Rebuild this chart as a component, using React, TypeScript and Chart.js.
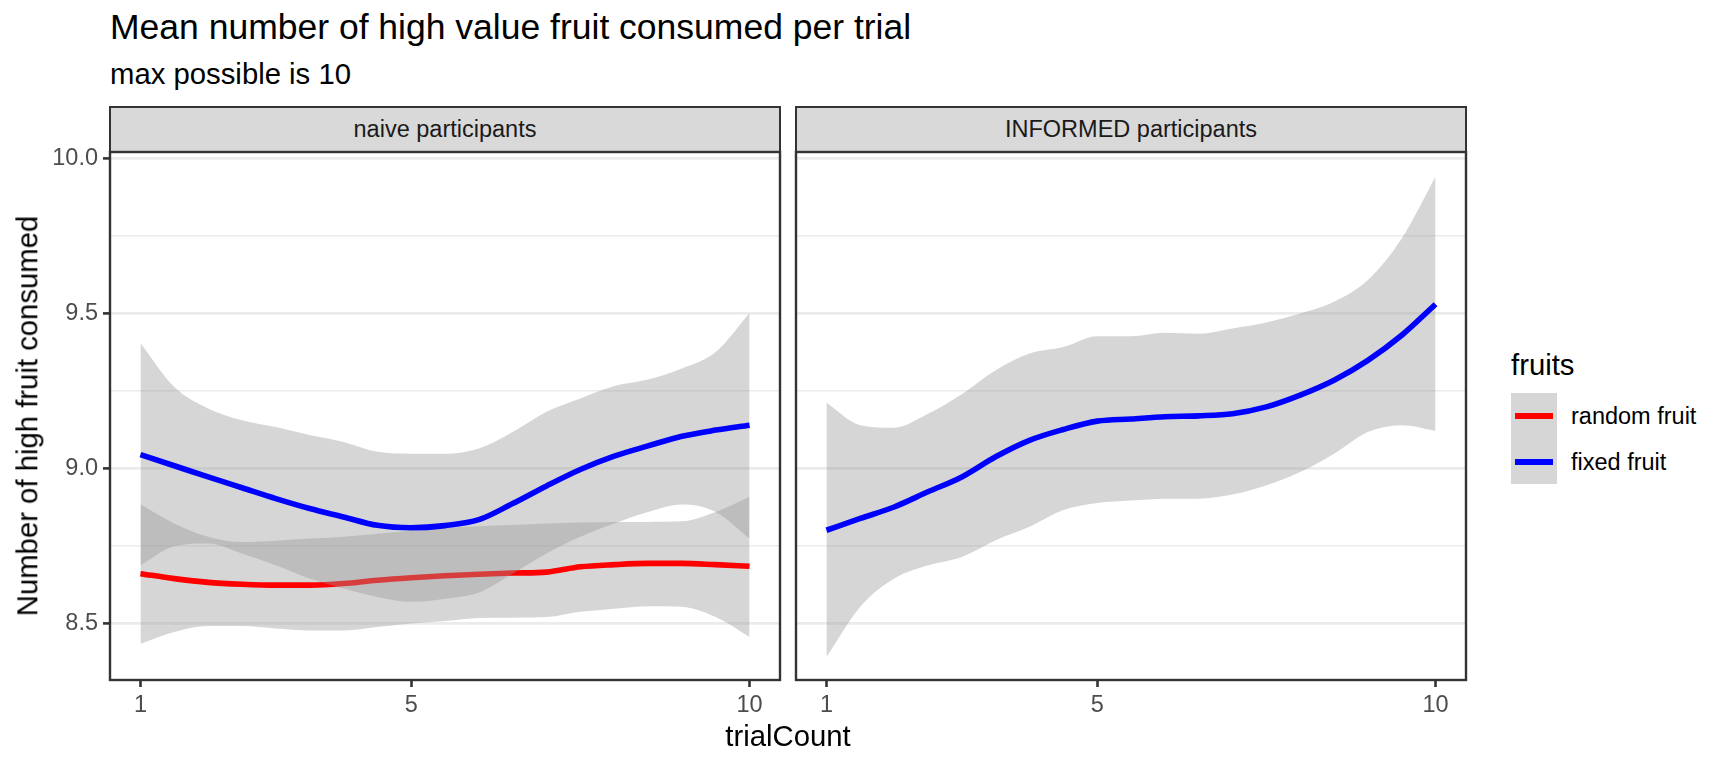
import React, { useEffect, useRef } from "react";
import { Chart, registerables } from "chart.js";

Chart.register(...registerables);

// ---------- data ----------
const trialCount = [1, 1.5, 2, 2.5, 3, 3.5, 4, 4.5, 5, 5.5, 6, 6.5, 7, 7.5, 8, 8.5, 9, 9.5, 10];

const naiveRandomFit = [8.661, 8.645, 8.633, 8.627, 8.624, 8.624, 8.629, 8.64, 8.648, 8.654, 8.659, 8.663, 8.666, 8.683, 8.69, 8.694, 8.694, 8.69, 8.685];
const naiveRandomLow = [8.435, 8.473, 8.492, 8.492, 8.484, 8.478, 8.478, 8.489, 8.5, 8.508, 8.518, 8.519, 8.521, 8.538, 8.548, 8.556, 8.554, 8.521, 8.457];
const naiveRandomHigh = [8.885, 8.823, 8.78, 8.763, 8.767, 8.774, 8.78, 8.79, 8.799, 8.808, 8.814, 8.818, 8.823, 8.826, 8.828, 8.828, 8.83, 8.86, 8.909];

const naiveFixedFit = [9.045, 9.009, 8.973, 8.938, 8.903, 8.871, 8.844, 8.817, 8.809, 8.816, 8.835, 8.887, 8.944, 8.997, 9.04, 9.073, 9.104, 9.124, 9.14];
const naiveFixedLow = [8.688, 8.749, 8.758, 8.726, 8.688, 8.645, 8.613, 8.586, 8.57, 8.58, 8.6, 8.661, 8.726, 8.78, 8.823, 8.86, 8.884, 8.86, 8.774];
const naiveFixedHigh = [9.405, 9.263, 9.194, 9.156, 9.134, 9.108, 9.086, 9.054, 9.048, 9.048, 9.065, 9.118, 9.183, 9.226, 9.266, 9.287, 9.323, 9.376, 9.502];

const informedFixedFit = [8.801, 8.839, 8.876, 8.925, 8.973, 9.038, 9.091, 9.126, 9.153, 9.16, 9.167, 9.17, 9.177, 9.199, 9.237, 9.285, 9.349, 9.43, 9.53];
const informedFixedLow = [8.392, 8.554, 8.645, 8.688, 8.715, 8.769, 8.812, 8.866, 8.889, 8.897, 8.903, 8.903, 8.916, 8.946, 8.989, 9.048, 9.118, 9.14, 9.122];
const informedFixedHigh = [9.212, 9.14, 9.132, 9.177, 9.24, 9.317, 9.371, 9.392, 9.427, 9.427, 9.438, 9.435, 9.452, 9.471, 9.5, 9.538, 9.608, 9.742, 9.941];

const xBreaks = [1, 5, 10];
const yBreaks = [8.5, 9.0, 9.5, 10.0];
const yMinorBreaks = [8.75, 9.25, 9.75];

const facetLabels = ["naive participants", "INFORMED participants"];
const seriesLabels = ["random fruit", "fixed fruit"];
const seriesColors = ["#FF0000", "#0000FF"];

const titleText = "Mean number of high value fruit consumed per trial";
const subtitleText = "max possible is 10";
const xTitle = "trialCount";
const yTitle = "Number of high fruit consumed";
const legendTitle = "fruits";

// ---------- styling ----------
const FONT = '"Liberation Sans", Arial, Helvetica, sans-serif';
const RIBBON = "rgba(153,153,153,0.4)";
const X_MIN = 0.55;
const X_MAX = 10.45;
const Y_MIN = 8.318;
const Y_MAX = 10.021;

type Series = { fit: number[]; lo: number[]; hi: number[]; color: string };

const pts = (arr: number[]) => trialCount.map((x, i) => ({ x, y: arr[i] }));

function buildDatasets(series: Series[]) {
  // first series in the list is drawn first (bottom); chart.js draws the last index first
  const ds: any[] = [];
  [...series].reverse().forEach((s) => {
    ds.push({
      data: pts(s.fit),
      borderColor: s.color,
      borderWidth: 5.6,
      pointRadius: 0,
      fill: false,
      cubicInterpolationMode: "monotone",
    });
    ds.push({
      data: pts(s.hi),
      borderWidth: 0,
      borderColor: "rgba(0,0,0,0)",
      backgroundColor: RIBBON,
      pointRadius: 0,
      fill: "+1",
      cubicInterpolationMode: "monotone",
    });
    ds.push({
      data: pts(s.lo),
      borderWidth: 0,
      borderColor: "rgba(0,0,0,0)",
      pointRadius: 0,
      fill: false,
      cubicInterpolationMode: "monotone",
    });
  });
  return ds;
}

const panelBorder = {
  id: "panelBorder",
  afterDraw(chart: any) {
    const { ctx, chartArea: a } = chart;
    ctx.save();
    ctx.strokeStyle = "#333333";
    ctx.lineWidth = 2.4;
    ctx.strokeRect(a.left, a.top, a.right - a.left, a.bottom - a.top);
    ctx.restore();
  },
};

const isMajor = (v: number) => yBreaks.some((b) => Math.abs(b - v) < 1e-6);

function makeConfig(series: Series[], showY: boolean): any {
  return {
    type: "line",
    data: { datasets: buildDatasets(series) },
    plugins: [panelBorder],
    options: {
      responsive: false,
      animation: false,
      events: [],
      layout: { padding: { top: 12, right: 10, left: 0, bottom: 0 } },
      plugins: {
        legend: { display: false },
        tooltip: { enabled: false },
        title: { display: false },
        filler: { propagate: false },
      },
      scales: {
        x: {
          type: "linear",
          min: X_MIN,
          max: X_MAX,
          afterBuildTicks: (s: any) => {
            s.ticks = xBreaks.map((v) => ({ value: v }));
          },
          afterFit: (s: any) => {
            s.height = 88;
            s.paddingLeft = 0;
            s.paddingRight = 0;
            s.paddingTop = 0;
            s.paddingBottom = 0;
          },
          border: { display: false },
          grid: {
            drawOnChartArea: false,
            drawTicks: true,
            tickLength: 7,
            tickColor: "#333333",
            tickWidth: 2.6,
          },
          ticks: {
            color: "#4D4D4D",
            font: { family: FONT, size: 23.5 },
            padding: 4,
            autoSkip: false,
            maxRotation: 0,
            callback: (v: any) => String(v),
          },
        },
        y: {
          type: "linear",
          min: Y_MIN,
          max: Y_MAX,
          afterBuildTicks: (s: any) => {
            s.ticks = [...yBreaks, ...yMinorBreaks]
              .sort((a, b) => a - b)
              .map((v) => ({ value: v }));
          },
          afterFit: (s: any) => {
            s.width = showY ? 110 : 10;
            s.paddingLeft = 0;
            s.paddingRight = 0;
            s.paddingTop = 0;
            s.paddingBottom = 0;
          },
          border: { display: false },
          grid: {
            color: "#EBEBEB",
            lineWidth: (c: any) => (c.tick && isMajor(c.tick.value) ? 2.8 : 1.4),
            drawTicks: showY,
            tickLength: 7,
            tickWidth: 2.6,
            tickColor: (c: any) =>
              c.tick && isMajor(c.tick.value) ? "#333333" : "rgba(0,0,0,0)",
          },
          ticks: {
            display: showY,
            color: "#4D4D4D",
            font: { family: FONT, size: 23.5 },
            padding: 5,
            autoSkip: false,
            callback: (v: any) => (isMajor(v) ? Number(v).toFixed(1) : ""),
          },
        },
      },
    },
  };
}

const abs = (s: React.CSSProperties): React.CSSProperties => ({
  position: "absolute",
  whiteSpace: "nowrap",
  margin: 0,
  ...s,
});

function Strip({ left, label }: { left: number; label: string }) {
  return (
    <div
      style={abs({
        left: left - 1.2,
        top: 107 - 1.2,
        width: 670 + 2.4,
        height: 45 + 2.4,
        boxSizing: "border-box",
        border: "2.4px solid #333333",
        background: "#D9D9D9",
        color: "#1A1A1A",
        fontSize: 23.5,
        lineHeight: "43px",
        textAlign: "center",
      })}
    >
      {label}
    </div>
  );
}

export default function App() {
  const leftRef = useRef<HTMLCanvasElement>(null);
  const rightRef = useRef<HTMLCanvasElement>(null);

  useEffect(() => {
    const left = new Chart(
      leftRef.current as HTMLCanvasElement,
      makeConfig(
        [
          { fit: naiveRandomFit, lo: naiveRandomLow, hi: naiveRandomHigh, color: seriesColors[0] },
          { fit: naiveFixedFit, lo: naiveFixedLow, hi: naiveFixedHigh, color: seriesColors[1] },
        ],
        true
      )
    );
    const right = new Chart(
      rightRef.current as HTMLCanvasElement,
      makeConfig(
        [{ fit: informedFixedFit, lo: informedFixedLow, hi: informedFixedHigh, color: seriesColors[1] }],
        false
      )
    );
    return () => {
      left.destroy();
      right.destroy();
    };
  }, []);

  return (
    <div
      style={{
        position: "fixed",
        left: 0,
        top: 0,
        width: 1728,
        height: 768,
        background: "#FFFFFF",
        fontFamily: FONT,
        color: "#000000",
        overflow: "hidden",
      }}
    >
      <div style={abs({ left: 110, top: 10, fontSize: 35.5, lineHeight: 1 })}>{titleText}</div>
      <div style={abs({ left: 110, top: 59, fontSize: 29.3, lineHeight: 1 })}>{subtitleText}</div>

      <Strip left={110} label={facetLabels[0]} />
      <Strip left={796} label={facetLabels[1]} />

      <canvas
        ref={leftRef}
        width={790}
        height={628}
        style={{ position: "absolute", left: 0, top: 140, width: 790, height: 628 }}
      />
      <canvas
        ref={rightRef}
        width={690}
        height={628}
        style={{ position: "absolute", left: 786, top: 140, width: 690, height: 628 }}
      />

      <div
        style={abs({
          left: 27,
          top: 416,
          fontSize: 29.3,
          lineHeight: 1,
          transform: "translate(-50%, -50%) rotate(-90deg)",
        })}
      >
        {yTitle}
      </div>
      <div
        style={abs({
          left: 788,
          top: 721,
          fontSize: 29.3,
          lineHeight: 1,
          transform: "translateX(-50%)",
        })}
      >
        {xTitle}
      </div>

      <div style={abs({ left: 1511, top: 350, fontSize: 29.3, lineHeight: 1 })}>{legendTitle}</div>
      {seriesLabels.map((lab, i) => (
        <React.Fragment key={lab}>
          <div
            style={abs({
              left: 1511,
              top: 393 + i * 45.5,
              width: 46,
              height: 45.5,
              background: "#D6D6D6",
            })}
          />
          <div
            style={abs({
              left: 1515,
              top: 416 + i * 46 - 2.8,
              width: 38,
              height: 5.6,
              background: seriesColors[i],
            })}
          />
          <div
            style={abs({
              left: 1571,
              top: 393 + i * 46,
              height: 46,
              lineHeight: "46px",
              fontSize: 23.5,
            })}
          >
            {lab}
          </div>
        </React.Fragment>
      ))}
    </div>
  );
}
